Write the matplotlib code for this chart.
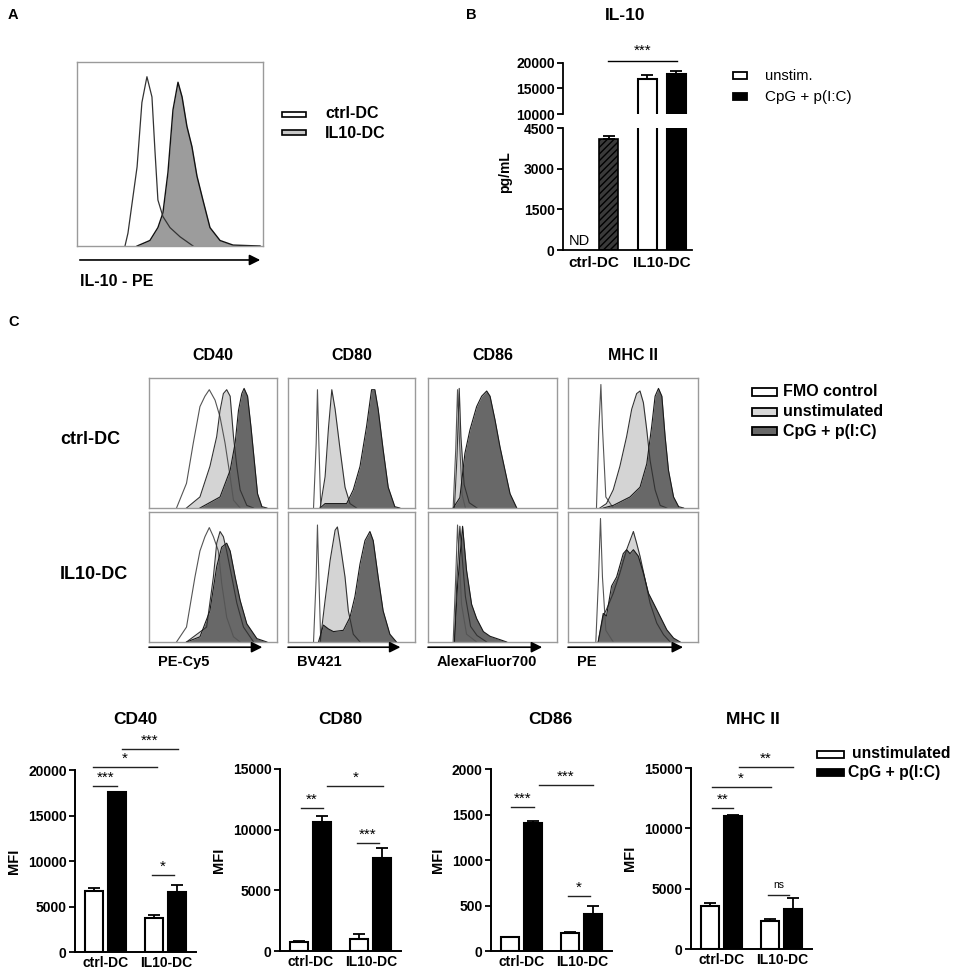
import matplotlib
matplotlib.use('Agg')
import matplotlib.pyplot as plt
from matplotlib.patches import Rectangle

plt.rcParams['font.family'] = ['Liberation Sans', 'DejaVu Sans']
plt.rcParams['hatch.linewidth'] = 1.0

W, H = 957, 972

# ---------------- panel A: IL-10 histograms (x: % of channel range, y: % of box height)
a_ctrl_x = [25.8, 27.4, 32.3, 34.9, 37.6, 40.3, 41.9, 43.5, 46.2, 50.0, 55.4, 62.4]
a_ctrl_y = [0, 7, 43, 78, 92, 81, 52, 25, 16, 10, 5, 0]
a_il10_x = [32.3, 39.2, 43.5, 46.2, 48.9, 51.6, 54.3, 56.5, 59.1, 61.8, 64.5, 67.7, 71.5, 76.9, 83.9, 98.4]
a_il10_y = [0, 3, 10, 18, 40, 74, 89, 81, 65, 54, 38, 25, 10, 3, 0.5, 0]

# ---------------- panel B: IL-10 ELISA
b_groups = ['ctrl-DC', 'IL10-DC']
b_unstim = [0, 16900]        # ctrl-DC not detected
b_unstim_err = [0, 750]
b_cpg = [4100, 17800]
b_cpg_err = [100, 600]

# ---------------- panel C: histograms, rows ctrl-DC / IL10-DC
markers = ['CD40', 'CD80', 'CD86', 'MHC II']
channels = ['PE-Cy5', 'BV421', 'AlexaFluor700', 'PE']
rows = ['ctrl-DC', 'IL10-DC']

cd40_ctrl_fmo = ([21.5, 29.3, 34.6, 39.8, 43.7, 47.1, 51.6, 55.5, 59.4, 63.4, 66.0, 71.2],
                 [0, 19, 50, 78, 86, 91, 83, 70, 50, 24, 6, 0])
cd40_ctrl_uns = ([29.3, 39.8, 47.6, 52.9, 55.5, 58.1, 60.7, 63.4, 66.0, 68.6, 71.2, 76.4, 81.7],
                 [0, 8.5, 32, 55, 75, 88, 91, 86, 55, 32, 14, 2, 0])
cd40_ctrl_cpg = ([39.8, 55.5, 63.4, 67.3, 69.9, 72.5, 74.3, 77.0, 79.6, 82.2, 84.8, 88.2, 92.1],
                 [0, 8.5, 29, 50, 75, 88, 92, 86, 63, 37, 11, 1, 0])
cd40_il10_fmo = ([21.5, 29.3, 35.9, 39.8, 43.7, 47.1, 50.3, 54.2, 56.8, 60.7, 66.0, 71.2],
                 [0, 11.5, 50, 70, 81, 88, 81, 70, 45, 19, 4, 0])
cd40_il10_uns = ([29.3, 45.0, 50.3, 52.9, 55.5, 58.1, 60.7, 64.7, 68.6, 73.8, 81.7],
                 [0, 11.5, 50, 76, 85, 81, 70, 50, 30, 11.5, 0])
cd40_il10_cpg = ([29.3, 39.8, 47.6, 52.9, 56.8, 60.7, 63.4, 67.3, 71.2, 76.4, 84.3, 92.1],
                 [0, 4, 24, 58, 73, 76, 70, 50, 32, 14, 2.6, 0])

cd80_ctrl_fmo = ([20.1, 22.2, 23.2, 24.3, 25.8], [0, 50, 91, 50, 0])
cd80_ctrl_uns = ([25.3, 29.2, 31.9, 34.5, 37.1, 41.0, 44.9, 48.8, 54.0],
                 [0, 24, 62, 91, 76, 45, 16, 3.4, 0])
cd80_ctrl_cpg = ([25.3, 29.2, 46.2, 51.4, 56.7, 61.9, 65.8, 68.4, 71.0, 74.9, 78.9, 84.1, 88.0],
                 [0, 3.4, 3.4, 14, 32, 63, 91, 91, 76, 45, 16, 1, 0])
cd80_il10_fmo = ([20.1, 22.2, 23.2, 24.3, 25.8], [0, 50, 90, 50, 0])
cd80_il10_uns = ([25.3, 29.2, 33.2, 37.1, 38.9, 41.0, 44.9, 47.5, 51.4, 56.7],
                 [0, 32, 63, 86, 88.5, 76, 50, 24, 6, 0])
cd80_il10_cpg = ([24.0, 27.9, 31.9, 35.8, 43.6, 48.8, 52.7, 56.7, 60.6, 64.5, 67.1, 71.0, 74.9, 80.2, 85.4],
                 [0, 13, 10, 8, 9, 19, 35, 60, 78, 85, 78, 50, 24, 6, 0])

cd86_ctrl_fmo = ([19.5, 21.5, 22.9, 24.5, 26.5, 29.0], [0, 45, 91, 50, 10, 0])
cd86_ctrl_uns = ([20.5, 22.5, 24.2, 25.5, 28.0, 32.0, 38.0], [0, 40, 92, 55, 18, 4, 0])
cd86_ctrl_cpg = ([19.5, 24.7, 28.6, 32.5, 37.7, 41.6, 45.5, 48.1, 51.9, 55.8, 59.7, 63.6, 68.8],
                 [0, 8, 42, 60, 78, 86, 90, 86, 68, 47, 29, 11, 0])
cd86_il10_fmo = ([19.5, 21.5, 22.9, 24.5, 26.0, 29.9, 37.7], [0, 50, 90, 60, 29, 6, 0])
cd86_il10_uns = ([20.5, 22.5, 24.7, 26.5, 29.0, 33.0, 38.0, 45.5], [0, 50, 89, 65, 35, 12, 5, 0])
cd86_il10_cpg = ([20.5, 23.0, 26.8, 29.9, 33.8, 37.7, 42.9, 48.1, 55.8, 61.0],
                 [0, 45, 89, 55, 29, 18, 8, 4.4, 1.8, 0])

mhc_ctrl_fmo = ([21.9, 23.7, 25.3, 26.5, 29.1, 34.8], [0, 60, 95, 62, 8.5, 0])
mhc_ctrl_uns = ([24.5, 29.6, 34.8, 39.9, 45.1, 49.0, 52.8, 55.4, 58.0, 60.6, 63.1, 67.0, 70.9, 76.0],
                [0, 3.4, 14, 32, 55, 76, 88, 90, 81, 60, 37, 14, 2, 0])
mhc_ctrl_cpg = ([27.1, 34.8, 47.7, 55.4, 60.6, 64.4, 67.0, 69.6, 72.2, 74.7, 77.3, 81.2, 85.1, 88.9],
                [0, 2, 8.5, 16, 34, 63, 86, 92, 86, 55, 29, 8.5, 1, 0])
mhc_il10_fmo = ([21.4, 23.5, 25.0, 26.5, 29.1, 34.8], [0, 50, 95, 50, 9, 0])
mhc_il10_uns = ([23.2, 27.1, 29.6, 34.8, 39.9, 45.1, 47.7, 50.3, 52.8, 55.4, 59.3, 63.1, 68.3, 73.5, 78.6],
                [0, 20, 25, 37.5, 53, 71, 78, 85, 76, 66, 48, 30, 14.5, 5.6, 0])
mhc_il10_cpg = ([23.2, 27.1, 29.6, 33.5, 37.4, 42.5, 45.1, 47.7, 50.3, 54.1, 58.0, 61.9, 65.7, 70.9, 76.0, 81.2, 86.3],
                [0, 22, 20, 43, 50, 68, 71, 68, 71, 66, 53, 37.5, 30, 19.6, 9.4, 3, 0])

# ---------------- panel C: MFI bar charts
groups = ['ctrl-DC', 'IL10-DC']
cd40_unstim, cd40_unstim_err = [6700, 3700], [300, 370]
cd40_cpg, cd40_cpg_err = [17600, 6550], [0, 860]
cd80_unstim, cd80_unstim_err = [770, 960], [60, 410]
cd80_cpg, cd80_cpg_err = [10600, 7700], [550, 830]
cd86_unstim, cd86_unstim_err = [150, 194], [0, 18]
cd86_cpg, cd86_cpg_err = [1403, 407], [29, 91]
mhc_unstim, mhc_unstim_err = [3550, 2300], [280, 200]
mhc_cpg, mhc_cpg_err = [11035, 3355], [85, 885]

# significance brackets: (x1, x2, y, label)
cd40_sig = [(-0.2, 0.2, 18240, '***'), (-0.2, 0.85, 20330, '*'), (0.28, 1.2, 22300, '***'), (0.78, 1.13, 8460, '*')]
cd80_sig = [(-0.16, 0.21, 11810, '**'), (0.28, 1.21, 13630, '*'), (0.78, 1.13, 8930, '***')]
cd86_sig = [(-0.17, 0.21, 1586, '***'), (0.29, 1.19, 1824, '***'), (0.78, 1.13, 604, '*')]
mhc_sig = [(-0.16, 0.2, 11670, '**'), (-0.16, 0.82, 13390, '*'), (0.29, 1.19, 15080, '**'), (0.77, 1.12, 4460, 'ns')]

FMO_C, UNS_C, CPG_C = 'white', '#d4d4d4', '#686868'

fig = plt.figure(figsize=(W / 100, H / 100), dpi=100)


def px_axes(l, t, r, b):
    return fig.add_axes([l / W, 1 - b / H, (r - l) / W, (b - t) / H])


def ftext(x, y, s, **kw):
    fig.text(x / W, 1 - y / H, s, **kw)


def fpatch(x, y, w, h, fc, lw=1.3):
    fig.add_artist(Rectangle((x / W, 1 - (y + h / 2) / H), w / W, h / H, fc=fc, ec='black',
                             lw=lw, transform=fig.transFigure))


def hist_box(ax):
    ax.set_xlim(0, 100)
    ax.set_ylim(0, 100)
    ax.set_xticks([])
    ax.set_yticks([])
    for s in ax.spines.values():
        s.set_color('#9a9a9a')
        s.set_linewidth(1.0)


def axis_arrow(ax, x1, x2, y):
    ax.annotate('', xy=(x2, y), xytext=(x1, y), xycoords='axes fraction',
                arrowprops=dict(arrowstyle='-|>', color='black', lw=1.2, mutation_scale=16,
                                shrinkA=0, shrinkB=0))


# ---------------- A
ftext(8, 15, 'A', fontsize=10.5, fontweight='bold', va='center')
axA = px_axes(77, 62, 263, 246)
hist_box(axA)
axA.fill_between(a_il10_x, a_il10_y, color='#9c9c9c', lw=0)
axA.plot(a_il10_x, a_il10_y, color='#111111', lw=1.0)
axA.plot(a_ctrl_x, a_ctrl_y, color='#333333', lw=0.9)
axis_arrow(axA, 0.015, 0.985, -0.076)
ftext(80, 282, 'IL-10 - PE', fontsize=11.5, fontweight='bold', va='center')
fpatch(282, 114, 24, 5, 'white', lw=1.2)
fpatch(282, 133, 24, 5, '#c8c8c8', lw=1.2)
ftext(325, 114, 'ctrl-DC', fontsize=11.5, fontweight='bold', va='center')
ftext(325, 133, 'IL10-DC', fontsize=11.5, fontweight='bold', va='center')

# ---------------- B
ftext(466, 15, 'B', fontsize=10.5, fontweight='bold', va='center')
ftext(625, 15, 'IL-10', fontsize=12.5, fontweight='bold', va='center', ha='center')
axBt = px_axes(563, 63, 692, 114)
axBb = px_axes(563, 128, 692, 250)
off, bw = 0.215, 0.28
for ax in (axBt, axBb):
    ax.bar([1 - off], [b_unstim[1]], bw, color='white', edgecolor='black', lw=1.5)
    ax.bar([0 + off], [b_cpg[0]], bw, color='#3a3a3a', edgecolor='black', lw=1.2, hatch='/////')
    ax.bar([1 + off], [b_cpg[1]], bw, color='black', edgecolor='black', lw=1.5)
    ax.errorbar([1 - off, 0 + off, 1 + off], [b_unstim[1], b_cpg[0], b_cpg[1]],
                yerr=[[0, 0, 0], [b_unstim_err[1], b_cpg_err[0], b_cpg_err[1]]],
                fmt='none', ecolor='black', elinewidth=1.3, capsize=4, capthick=1.3)
    ax.set_xlim(-0.46, 1.45)
    for s in ('top', 'right'):
        ax.spines[s].set_visible(False)
    ax.spines['left'].set_linewidth(1.3)
    ax.tick_params(axis='y', length=4, width=1.3, pad=2)
axBt.set_ylim(10000, 20000)
axBt.set_yticks([10000, 15000, 20000])
axBt.set_yticklabels(['10000', '15000', '20000'], fontweight='bold', fontsize=10)
axBt.spines['bottom'].set_visible(False)
axBt.set_xticks([])
axBb.set_ylim(0, 4500)
axBb.set_yticks([0, 1500, 3000, 4500])
axBb.set_yticklabels(['0', '1500', '3000', '4500'], fontweight='bold', fontsize=10)
axBb.spines['bottom'].set_linewidth(1.3)
axBb.set_xticks([0, 1])
axBb.set_xticklabels(b_groups, fontsize=11, fontweight='bold')
axBb.tick_params(axis='x', length=0, pad=4)
axBb.text(-off, 60, 'ND', fontsize=10.5, ha='center', va='bottom')
axBt.plot([0.21, 1.23], [20400, 20400], color='black', lw=1, clip_on=False)
axBt.text(0.72, 22400, '***', fontsize=11, ha='center', va='center')
ftext(505, 172, 'pg/mL', fontsize=10, fontweight='bold', rotation=90, va='center', ha='center')
fpatch(733, 76, 14, 7, 'white', lw=1.3)
fpatch(733, 97, 14, 7, 'black', lw=1.3)
ftext(765, 76, 'unstim.', fontsize=10.5, va='center')
ftext(765, 97, 'CpG + p(I:C)', fontsize=11, va='center')

# ---------------- C histograms
ftext(8, 322, 'C', fontsize=10.5, fontweight='bold', va='center')
col_px = [(149, 277), (288, 415), (428, 557), (568, 698)]
row_px = [(378, 508), (512, 642)]
hist_sets = [
    [(cd40_ctrl_fmo, cd40_ctrl_uns, cd40_ctrl_cpg), (cd40_il10_fmo, cd40_il10_uns, cd40_il10_cpg)],
    [(cd80_ctrl_fmo, cd80_ctrl_uns, cd80_ctrl_cpg), (cd80_il10_fmo, cd80_il10_uns, cd80_il10_cpg)],
    [(cd86_ctrl_fmo, cd86_ctrl_uns, cd86_ctrl_cpg), (cd86_il10_fmo, cd86_il10_uns, cd86_il10_cpg)],
    [(mhc_ctrl_fmo, mhc_ctrl_uns, mhc_ctrl_cpg), (mhc_il10_fmo, mhc_il10_uns, mhc_il10_cpg)],
]
for ci, (l, r) in enumerate(col_px):
    ftext((l + r) / 2, 355, markers[ci], fontsize=11.5, fontweight='bold', ha='center', va='center')
    for ri, (t, b) in enumerate(row_px):
        ax = px_axes(l, t, r, b)
        hist_box(ax)
        fmo, uns, cpg = hist_sets[ci][ri]
        ax.fill_between(fmo[0], fmo[1], color=FMO_C, lw=0)
        ax.fill_between(uns[0], uns[1], color=UNS_C, lw=0)
        ax.fill_between(cpg[0], cpg[1], color=CPG_C, lw=0)
        ax.plot(fmo[0], fmo[1], color='#555555', lw=0.8)
        ax.plot(uns[0], uns[1], color='#333333', lw=0.8)
        ax.plot(cpg[0], cpg[1], color='#1a1a1a', lw=0.8)
        if ri == 1:
            axis_arrow(ax, 0.0, 0.885, -0.04)
    ftext(l + 9, 662, channels[ci], fontsize=10.5, fontweight='bold', va='center')
for ri, (t, b) in enumerate(row_px):
    ftext(60, (t + b) / 2 - 3, rows[ri], fontsize=13, fontweight='bold', va='center')

for i, (lab, fc) in enumerate(zip(['FMO control', 'unstimulated', 'CpG + p(I:C)'], [FMO_C, '#d8d8d8', CPG_C])):
    y = 392 + i * 19.5
    fpatch(752, y, 25, 8, fc, lw=1.3)
    ftext(783, y, lab, fontsize=11.5, fontweight='bold', va='center')

# ---------------- C bar charts
bar_sets = [
    ('CD40', 75, 770, 952, 20000, 5000, cd40_unstim, cd40_unstim_err, cd40_cpg, cd40_cpg_err, cd40_sig),
    ('CD80', 280, 769, 951, 15000, 5000, cd80_unstim, cd80_unstim_err, cd80_cpg, cd80_cpg_err, cd80_sig),
    ('CD86', 491, 769, 951, 2000, 500, cd86_unstim, cd86_unstim_err, cd86_cpg, cd86_cpg_err, cd86_sig),
    ('MHC II', 691, 768, 949, 15000, 5000, mhc_unstim, mhc_unstim_err, mhc_cpg, mhc_cpg_err, mhc_sig),
]
title_x = [135, 340, 550, 753]
off, bw = 0.19, 0.3
for (title, l, t, b, ymax, step, uns, uns_e, cpg, cpg_e, sigs), tx in zip(bar_sets, title_x):
    ax = px_axes(l, t, l + 121, b)
    xs = [0, 1]
    ax.bar([x - off for x in xs], uns, bw, color='white', edgecolor='black', lw=1.5, zorder=2)
    ax.bar([x + off for x in xs], cpg, bw, color='black', edgecolor='black', lw=1.5, zorder=2)
    ax.errorbar([x - off for x in xs], uns, yerr=[[0, 0], uns_e], fmt='none', ecolor='black',
                elinewidth=1.3, capsize=4, capthick=1.3, zorder=1)
    ax.errorbar([x + off for x in xs], cpg, yerr=[[0, 0], cpg_e], fmt='none', ecolor='black',
                elinewidth=1.3, capsize=4, capthick=1.3, zorder=1)
    ax.set_xlim(-0.5, 1.5)
    ax.set_ylim(0, ymax)
    ticks = list(range(0, ymax + 1, step))
    ax.set_yticks(ticks)
    ax.set_yticklabels([str(v) for v in ticks], fontsize=10, fontweight='bold')
    ax.set_xticks(xs)
    ax.set_xticklabels(groups, fontsize=10, fontweight='bold')
    ax.tick_params(axis='x', length=0, pad=3)
    ax.tick_params(axis='y', length=4, width=1.3, pad=2)
    for s in ('top', 'right'):
        ax.spines[s].set_visible(False)
    for s in ('left', 'bottom'):
        ax.spines[s].set_linewidth(1.4)
    ax.set_ylabel('MFI', fontsize=10.5, fontweight='bold', labelpad=5)
    ftext(tx, 720, title, fontsize=12.5, fontweight='bold', ha='center', va='center')
    for x1, x2, y, lab in sigs:
        ax.plot([x1, x2], [y, y], color='#222222', lw=1, clip_on=False)
        if lab == 'ns':
            ax.annotate(lab, xy=((x1 + x2) / 2, y), xytext=(0, 7), textcoords='offset points',
                        ha='center', va='center', fontsize=7.5, annotation_clip=False)
        else:
            ax.annotate(lab, xy=((x1 + x2) / 2, y), xytext=(0, 6), textcoords='offset points',
                        ha='center', va='center', fontsize=11, annotation_clip=False)

fpatch(817, 754, 27, 7, 'white', lw=1.3)
fpatch(817, 772, 27, 7, 'black', lw=1.3)
ftext(852, 754, 'unstimulated', fontsize=11.3, fontweight='bold', va='center')
ftext(848, 772, 'CpG + p(I:C)', fontsize=11.3, fontweight='bold', va='center')

fig.savefig('out.png', dpi=100)
